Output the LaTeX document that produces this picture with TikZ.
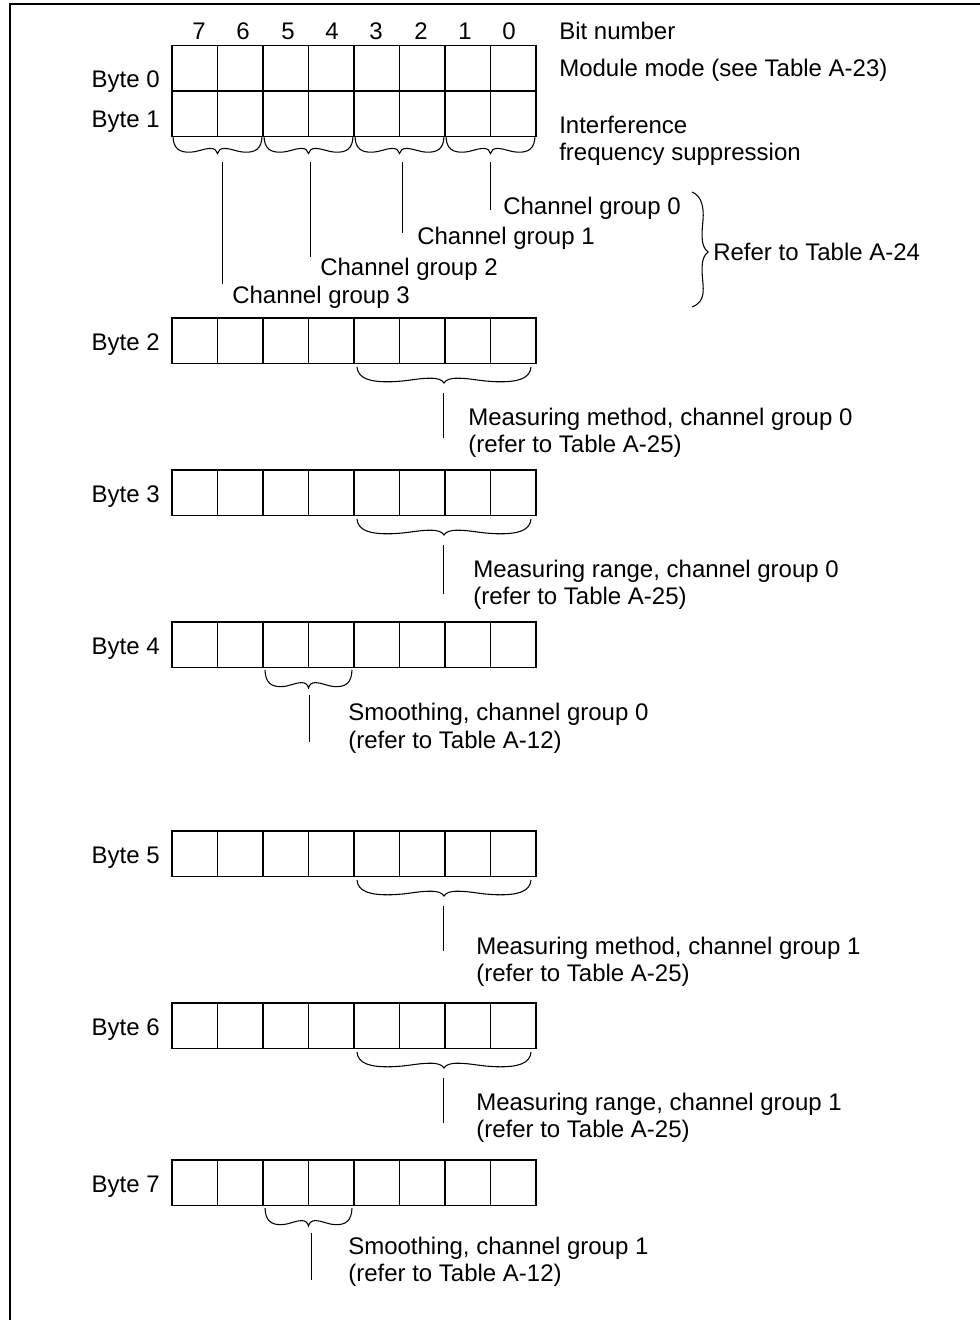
\documentclass[tikz,border=0pt]{standalone}
\usepackage{fontspec}
\setmainfont{Liberation Sans}
\newcommand\BraceDown[4]{% xa, xb, ytop, depth
  \pgfmathsetmacro\bw{#2-#1}%
  \pgfmathsetmacro\bm{(#1+#2)/2}%
  \draw[brc] (#1,#3)
    .. controls ({#1+0.005*\bw},{#3+0.7*#4}) and ({#1+0.07*\bw},{#3+0.96*#4}) .. ({#1+0.2*\bw},{#3+0.92*#4})
    .. controls ({#1+0.29*\bw},{#3+0.89*#4}) and ({#1+0.35*\bw},{#3+0.7*#4}) .. ({#1+0.42*\bw},{#3+0.7*#4})
    .. controls ({#1+0.47*\bw},{#3+0.7*#4}) and ({\bm-0.01*\bw},{#3+0.82*#4}) .. (\bm,{#3+#4})
    .. controls ({\bm+0.01*\bw},{#3+0.82*#4}) and ({#2-0.47*\bw},{#3+0.7*#4}) .. ({#2-0.42*\bw},{#3+0.7*#4})
    .. controls ({#2-0.35*\bw},{#3+0.7*#4}) and ({#2-0.29*\bw},{#3+0.89*#4}) .. ({#2-0.2*\bw},{#3+0.92*#4})
    .. controls ({#2-0.07*\bw},{#3+0.96*#4}) and ({#2-0.005*\bw},{#3+0.7*#4}) .. (#2,#3);%
}
\begin{document}
\begin{tikzpicture}[x=0.75pt,y=-0.75pt,
  cell/.style={draw, line width=1.05pt, minimum width=34.125pt, minimum height=34.125pt, inner sep=0pt, outer sep=0pt},
  txt/.style={anchor=base west, inner sep=0pt, font=\fontsize{18}{21.6}\selectfont},
  lbl/.style={anchor=base east, inner sep=0pt, font=\fontsize{18}{21.6}\selectfont},
  num/.style={anchor=base, inner sep=0pt, font=\fontsize{18}{21.6}\selectfont},
  brc/.style={line width=0.8pt},
  lead/.style={line width=0.75pt},
  frame/.style={line width=1.1pt}]
\useasboundingbox (0,0) rectangle (980,1320);
\draw[frame] (10,1320) -- (10,4) -- (980,4);

% byte rows
\foreach \r/\t/\lb in {0/45.5/87.5, 1/91/127.5, 2/318/350.5, 3/470/502.5, 4/622/654.5, 5/831/863.5, 6/1003/1035.5, 7/1160/1192.5}{
  \foreach \k in {0,...,7}{
    \node[cell] (b\r c\k) at ({194.75+45.5*\k},{\t+22.75}) {};
  }
  \node[lbl] (byte\r) at (160,\lb) {Byte \r};
}

% bit numbers
\foreach \b/\x in {7/199,6/243,5/288,4/332,3/376,2/421,1/465,0/509}{
  \node[num] (bit\b) at (\x,40) {\b};
}
\node[txt] (bitnum) at (559,40) {Bit number};
\node[txt] (modmode) at (559,76) {Module mode (see Table A-23)};
\node[txt] (interf) at (559,133) {Interference};
\node[txt] (freqs) at (559,160) {frequency suppression};

% byte 1 braces
\BraceDown{173}{262}{136.5}{17}
\BraceDown{264}{353}{136.5}{17}
\BraceDown{355}{444}{136.5}{17}
\BraceDown{446}{535}{136.5}{17}

\node[txt] (cg0) at (503,214) {Channel group 0};
\node[txt] (cg1) at (417,244) {Channel group 1};
\node[txt] (cg2) at (320,275) {Channel group 2};
\node[txt] (cg3) at (232,303) {Channel group 3};

\coordinate (g3a) at (222,162); \coordinate (g3b) at (222,284);
\coordinate (g2a) at (310,162); \coordinate (g2b) at (310,257);
\coordinate (g1a) at (402,162); \coordinate (g1b) at (402,233);
\coordinate (g0a) at (490,162); \coordinate (g0b) at (490,210);
\draw[lead] (g3a) -- (g3b);
\draw[lead] (g2a) -- (g2b);
\draw[lead] (g1a) -- (g1b);
\draw[lead] (g0a) -- (g0b);

% right brace
\draw[brc] (692,192) .. controls (702,196) and (704,208) .. (703,220)
  .. controls (702,232) and (700,246) .. (708,252)
  .. controls (700,258) and (702,272) .. (703,284)
  .. controls (704,296) and (702,303) .. (692,307);
\node[txt] (ref24) at (713,260.5) {Refer to Table A-24};

% byte 2
\BraceDown{357}{531}{367}{16}
\coordinate (l2a) at (443,393); \coordinate (l2b) at (443,438);
\draw[lead] (l2a) -- (l2b);
\node[txt] (m2a) at (468,425.5) {Measuring method, channel group 0};
\node[txt] (m2b) at (468,452.5) {(refer to Table A-25)};

% byte 3
\BraceDown{357}{531}{519}{16}
\coordinate (l3a) at (443,545); \coordinate (l3b) at (443,594);
\draw[lead] (l3a) -- (l3b);
\node[txt] (m3a) at (473,577.5) {Measuring range, channel group 0};
\node[txt] (m3b) at (473,604.5) {(refer to Table A-25)};

% byte 4
\BraceDown{265}{352}{670}{18}
\coordinate (l4a) at (309,695); \coordinate (l4b) at (309,742);
\draw[lead] (l4a) -- (l4b);
\node[txt] (m4a) at (348,720.5) {Smoothing, channel group 0};
\node[txt] (m4b) at (348,748.5) {(refer to Table A-12)};

% byte 5
\BraceDown{357}{531}{880}{16}
\coordinate (l5a) at (443,906); \coordinate (l5b) at (443,951);
\draw[lead] (l5a) -- (l5b);
\node[txt] (m5a) at (476,954.5) {Measuring method, channel group 1};
\node[txt] (m5b) at (476,981.5) {(refer to Table A-25)};

% byte 6
\BraceDown{357}{531}{1052}{16}
\coordinate (l6a) at (443,1078); \coordinate (l6b) at (443,1123);
\draw[lead] (l6a) -- (l6b);
\node[txt] (m6a) at (476,1110.5) {Measuring range, channel group 1};
\node[txt] (m6b) at (476,1137.5) {(refer to Table A-25)};

% byte 7
\BraceDown{265}{352}{1208}{18}
\coordinate (l7a) at (311,1233); \coordinate (l7b) at (311,1280);
\draw[lead] (l7a) -- (l7b);
\node[txt] (m7a) at (348,1254.5) {Smoothing, channel group 1};
\node[txt] (m7b) at (348,1281.5) {(refer to Table A-12)};
\end{tikzpicture}
\end{document}
